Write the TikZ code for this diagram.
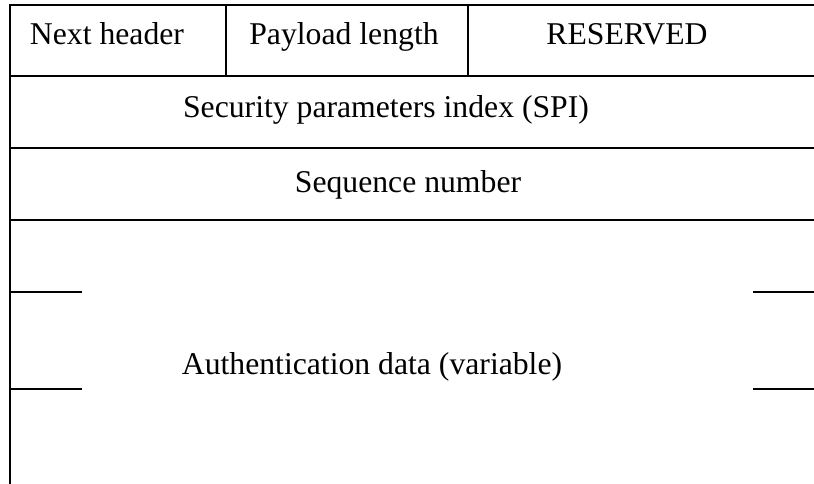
\documentclass[tikz,border=0pt]{standalone}
\usepackage{fontspec}
\setmainfont{Liberation Serif}
\usetikzlibrary{calc}

\tikzset{field/.style={anchor=base, inner sep=0pt, font=\fontsize{31.7}{38}\selectfont}}

\begin{document}
\begin{tikzpicture}[x=1pt,y=-1pt,line width=1.6pt]
\useasboundingbox (0,0) rectangle (814,484);

% frame, open on the right
\draw (814,5) -- (10,5) -- (10,484);
\foreach \y in {76,148,220}
\draw (10,\y) -- (814,\y);
\foreach \x in {226,468}
\draw (\x,5) -- (\x,76);

% stubs of the variable length field
\foreach \y in {292,389} {
\draw (10,\y) --++(72,0);
\draw (753,\y) -- (814,\y);
}

\node[field] (nexthdr) at (107,45) {Next header};
\node[field] (paylen) at (344,45) {Payload length};
\node[field] (resv) at (627,45) {RESERVED};
\node[field] (spi) at (386,118) {Security parameters index (SPI)};
\node[field] (seqnum) at (408,193) {Sequence number};
\node[field] (authdata) at (372,374) {Authentication data (variable)};

\end{tikzpicture}
\end{document}
